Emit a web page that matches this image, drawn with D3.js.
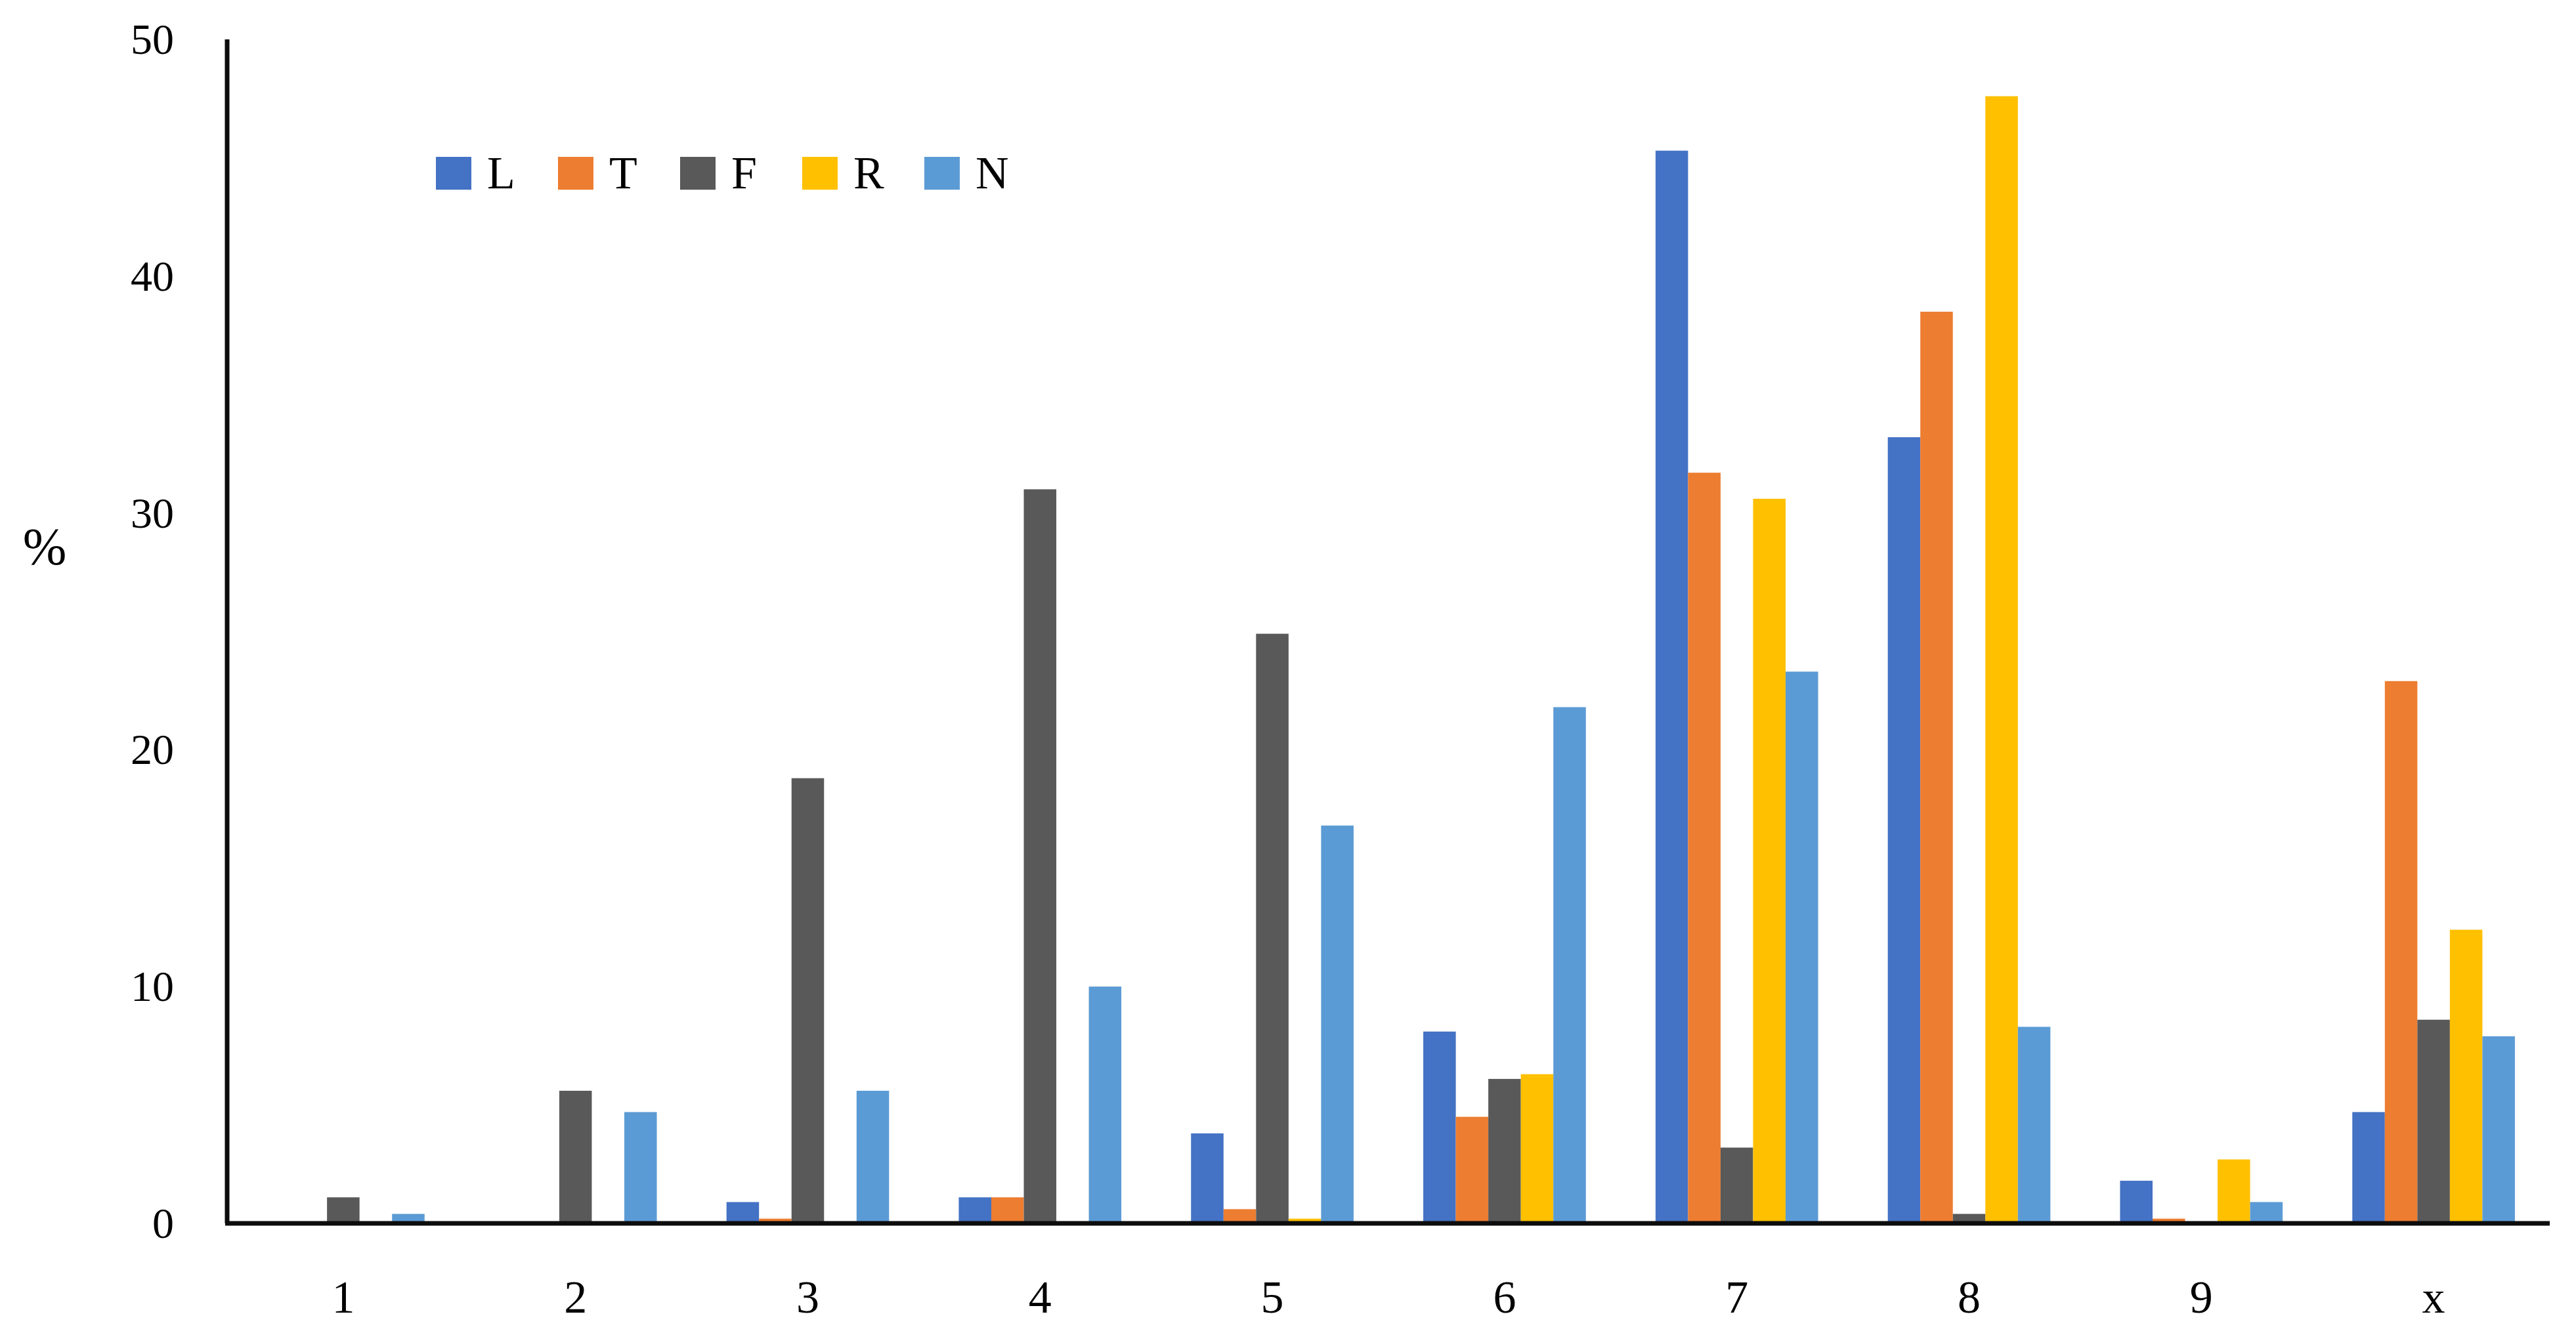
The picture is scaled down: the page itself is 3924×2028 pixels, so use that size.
<!DOCTYPE html>
<html><head><meta charset="utf-8">
<script src="https://cdn.jsdelivr.net/npm/d3@7"></script>
<style>body{margin:0;background:#fff}</style>
</head><body>
<script>
const categories = ["1","2","3","4","5","6","7","8","9","x"];
const seriesNames = ["L","T","F","R","N"];
const colors = ["#4472c4","#ed7d31","#595959","#ffc000","#5b9bd5"];
const L = [0, 0, 0.9, 1.1, 3.8, 8.1, 45.3, 33.2, 1.8, 4.7];
const T = [0, 0, 0.2, 1.1, 0.6, 4.5, 31.7, 38.5, 0.2, 22.9];
const F = [1.1, 5.6, 18.8, 31.0, 24.9, 6.1, 3.2, 0.4, 0, 8.6];
const R = [0, 0, 0, 0, 0.2, 6.3, 30.6, 47.6, 2.7, 12.4];
const N = [0.4, 4.7, 5.6, 10.0, 16.8, 21.8, 23.3, 8.3, 0.9, 7.9];
const yTicks = [0, 10, 20, 30, 40, 50];
const series = [L, T, F, R, N];

const W = 3924, H = 2028;
const x0 = 346, x1 = 3884, yZero = 1864, yTop = 60;
const font = "'Liberation Serif', serif";

const svg = d3.select("body").append("svg").attr("width", W).attr("height", H);

const x = d3.scaleBand().domain(categories).range([x0, x1]).paddingInner(0.3).paddingOuter(0.15);
const xs = d3.scaleBand().domain(seriesNames).range([0, x.bandwidth()]);
const y = d3.scaleLinear().domain([0, 50]).range([yZero, yTop]);

categories.forEach((c, i) => {
  svg.append("g").selectAll("rect")
    .data(seriesNames.map((s, j) => ({ s, v: series[j][i], c: colors[j] })))
    .enter().append("rect")
    .attr("x", d => x(c) + xs(d.s))
    .attr("width", xs.bandwidth())
    .attr("y", d => y(d.v))
    .attr("height", d => y(0) - y(d.v))
    .attr("fill", d => d.c);
});

// axes
svg.append("line").attr("x1", x0).attr("x2", x0).attr("y1", yTop).attr("y2", yZero)
  .attr("stroke", "#0d0d0d").attr("stroke-width", 7);
svg.append("line").attr("x1", x0 - 3).attr("x2", x1).attr("y1", yZero).attr("y2", yZero)
  .attr("stroke", "#0d0d0d").attr("stroke-width", 7);

svg.selectAll(".yt").data(yTicks).enter().append("text")
  .attr("x", 265).attr("y", d => y(d) + 22)
  .attr("text-anchor", "end").style("font-family", font).style("font-size", "66px")
  .text(d => d);

const xb = d3.scaleBand().domain(categories).range([x0, x1]);
svg.selectAll(".xt").data(categories).enter().append("text")
  .attr("x", d => xb(d) + xb.bandwidth() / 2).attr("y", 2000)
  .attr("text-anchor", "middle").style("font-family", font).style("font-size", "70px")
  .text(d => d);

svg.append("text").attr("x", 68).attr("y", 860).attr("text-anchor", "middle")
  .style("font-family", font).style("font-size", "80px").text("%");

// legend
const lg = svg.append("g").selectAll("g").data(seriesNames).enter().append("g")
  .attr("transform", (d, i) => `translate(${664 + i * 186},239)`);
lg.append("rect").attr("width", 54).attr("height", 50).attr("fill", (d, i) => colors[i]);
lg.append("text").attr("x", 78).attr("y", 48).style("font-family", font).style("font-size", "70px")
  .text(d => d);
</script>
</body></html>
